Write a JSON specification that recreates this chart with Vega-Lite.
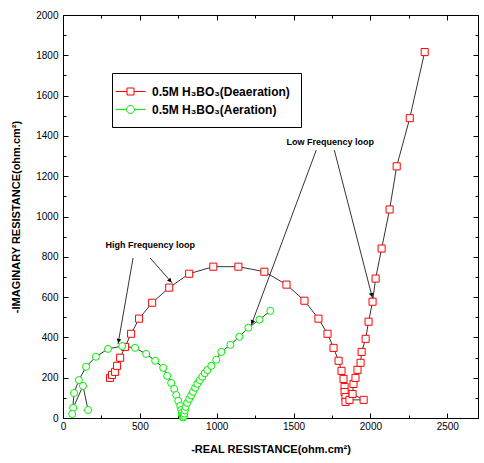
{
  "$schema": "https://vega.github.io/schema/vega-lite/v6.json",
  "width": 415,
  "height": 403,
  "autosize": {"type": "none"},
  "padding": {"left": 63, "top": 15, "right": 6, "bottom": 45},
  "background": "white",
  "config": {
    "view": {"stroke": "black", "strokeWidth": 1},
    "font": "Liberation Sans",
    "axis": {
      "grid": false,
      "domainColor": "black",
      "tickColor": "black",
      "labelColor": "black",
      "titleColor": "black",
      "labelFont": "Liberation Sans",
      "labelFontSize": 10,
      "titleFont": "Liberation Sans",
      "titleFontSize": 11,
      "titleFontWeight": "bold",
      "labelFlush": false,
      "labelOverlap": false,
      "format": "d"
    }
  },
  "datasets": {
    "eis": [
      {"series": "0.5M H₃BO₃(Deaeration)", "i": 1, "x": 306, "y": 199},
      {"series": "0.5M H₃BO₃(Deaeration)", "i": 2, "x": 319, "y": 214},
      {"series": "0.5M H₃BO₃(Deaeration)", "i": 3, "x": 339, "y": 229},
      {"series": "0.5M H₃BO₃(Deaeration)", "i": 4, "x": 352, "y": 259},
      {"series": "0.5M H₃BO₃(Deaeration)", "i": 5, "x": 372, "y": 299},
      {"series": "0.5M H₃BO₃(Deaeration)", "i": 6, "x": 404, "y": 353},
      {"series": "0.5M H₃BO₃(Deaeration)", "i": 7, "x": 443, "y": 418},
      {"series": "0.5M H₃BO₃(Deaeration)", "i": 8, "x": 495, "y": 493},
      {"series": "0.5M H₃BO₃(Deaeration)", "i": 9, "x": 580, "y": 572},
      {"series": "0.5M H₃BO₃(Deaeration)", "i": 10, "x": 691, "y": 647},
      {"series": "0.5M H₃BO₃(Deaeration)", "i": 11, "x": 821, "y": 716},
      {"series": "0.5M H₃BO₃(Deaeration)", "i": 12, "x": 978, "y": 751},
      {"series": "0.5M H₃BO₃(Deaeration)", "i": 13, "x": 1141, "y": 751},
      {"series": "0.5M H₃BO₃(Deaeration)", "i": 14, "x": 1310, "y": 726},
      {"series": "0.5M H₃BO₃(Deaeration)", "i": 15, "x": 1454, "y": 662},
      {"series": "0.5M H₃BO₃(Deaeration)", "i": 16, "x": 1571, "y": 582},
      {"series": "0.5M H₃BO₃(Deaeration)", "i": 17, "x": 1662, "y": 493},
      {"series": "0.5M H₃BO₃(Deaeration)", "i": 18, "x": 1721, "y": 418},
      {"series": "0.5M H₃BO₃(Deaeration)", "i": 19, "x": 1760, "y": 348},
      {"series": "0.5M H₃BO₃(Deaeration)", "i": 20, "x": 1793, "y": 284},
      {"series": "0.5M H₃BO₃(Deaeration)", "i": 21, "x": 1812, "y": 234},
      {"series": "0.5M H₃BO₃(Deaeration)", "i": 22, "x": 1825, "y": 194},
      {"series": "0.5M H₃BO₃(Deaeration)", "i": 23, "x": 1832, "y": 154},
      {"series": "0.5M H₃BO₃(Deaeration)", "i": 24, "x": 1832, "y": 129},
      {"series": "0.5M H₃BO₃(Deaeration)", "i": 25, "x": 1838, "y": 104},
      {"series": "0.5M H₃BO₃(Deaeration)", "i": 26, "x": 1838, "y": 80},
      {"series": "0.5M H₃BO₃(Deaeration)", "i": 27, "x": 1864, "y": 90},
      {"series": "0.5M H₃BO₃(Deaeration)", "i": 28, "x": 1956, "y": 90},
      {"series": "0.5M H₃BO₃(Deaeration)", "i": 29, "x": 1884, "y": 119},
      {"series": "0.5M H₃BO₃(Deaeration)", "i": 30, "x": 1890, "y": 169},
      {"series": "0.5M H₃BO₃(Deaeration)", "i": 31, "x": 1903, "y": 199},
      {"series": "0.5M H₃BO₃(Deaeration)", "i": 32, "x": 1916, "y": 239},
      {"series": "0.5M H₃BO₃(Deaeration)", "i": 33, "x": 1936, "y": 274},
      {"series": "0.5M H₃BO₃(Deaeration)", "i": 34, "x": 1943, "y": 328},
      {"series": "0.5M H₃BO₃(Deaeration)", "i": 35, "x": 1969, "y": 393},
      {"series": "0.5M H₃BO₃(Deaeration)", "i": 36, "x": 1988, "y": 478},
      {"series": "0.5M H₃BO₃(Deaeration)", "i": 37, "x": 2014, "y": 577},
      {"series": "0.5M H₃BO₃(Deaeration)", "i": 38, "x": 2034, "y": 692},
      {"series": "0.5M H₃BO₃(Deaeration)", "i": 39, "x": 2073, "y": 841},
      {"series": "0.5M H₃BO₃(Deaeration)", "i": 40, "x": 2125, "y": 1035},
      {"series": "0.5M H₃BO₃(Deaeration)", "i": 41, "x": 2171, "y": 1249},
      {"series": "0.5M H₃BO₃(Deaeration)", "i": 42, "x": 2256, "y": 1488},
      {"series": "0.5M H₃BO₃(Deaeration)", "i": 43, "x": 2353, "y": 1816},
      {"series": "0.5M H₃BO₃(Aeration)", "i": 1, "x": 163, "y": 40},
      {"series": "0.5M H₃BO₃(Aeration)", "i": 2, "x": 130, "y": 159},
      {"series": "0.5M H₃BO₃(Aeration)", "i": 3, "x": 66, "y": 50},
      {"series": "0.5M H₃BO₃(Aeration)", "i": 4, "x": 60, "y": 20},
      {"series": "0.5M H₃BO₃(Aeration)", "i": 5, "x": 72, "y": 124},
      {"series": "0.5M H₃BO₃(Aeration)", "i": 6, "x": 103, "y": 188},
      {"series": "0.5M H₃BO₃(Aeration)", "i": 7, "x": 150, "y": 254},
      {"series": "0.5M H₃BO₃(Aeration)", "i": 8, "x": 214, "y": 304},
      {"series": "0.5M H₃BO₃(Aeration)", "i": 9, "x": 293, "y": 343},
      {"series": "0.5M H₃BO₃(Aeration)", "i": 10, "x": 385, "y": 357},
      {"series": "0.5M H₃BO₃(Aeration)", "i": 11, "x": 469, "y": 348},
      {"series": "0.5M H₃BO₃(Aeration)", "i": 12, "x": 541, "y": 318},
      {"series": "0.5M H₃BO₃(Aeration)", "i": 13, "x": 600, "y": 284},
      {"series": "0.5M H₃BO₃(Aeration)", "i": 14, "x": 652, "y": 249},
      {"series": "0.5M H₃BO₃(Aeration)", "i": 15, "x": 678, "y": 209},
      {"series": "0.5M H₃BO₃(Aeration)", "i": 16, "x": 704, "y": 174},
      {"series": "0.5M H₃BO₃(Aeration)", "i": 17, "x": 724, "y": 144},
      {"series": "0.5M H₃BO₃(Aeration)", "i": 18, "x": 737, "y": 114},
      {"series": "0.5M H₃BO₃(Aeration)", "i": 19, "x": 750, "y": 85},
      {"series": "0.5M H₃BO₃(Aeration)", "i": 20, "x": 763, "y": 60},
      {"series": "0.5M H₃BO₃(Aeration)", "i": 21, "x": 769, "y": 40},
      {"series": "0.5M H₃BO₃(Aeration)", "i": 22, "x": 773, "y": 25},
      {"series": "0.5M H₃BO₃(Aeration)", "i": 23, "x": 776, "y": 12},
      {"series": "0.5M H₃BO₃(Aeration)", "i": 24, "x": 779, "y": 5},
      {"series": "0.5M H₃BO₃(Aeration)", "i": 25, "x": 782, "y": 3},
      {"series": "0.5M H₃BO₃(Aeration)", "i": 26, "x": 786, "y": 10},
      {"series": "0.5M H₃BO₃(Aeration)", "i": 27, "x": 789, "y": 22},
      {"series": "0.5M H₃BO₃(Aeration)", "i": 28, "x": 793, "y": 38},
      {"series": "0.5M H₃BO₃(Aeration)", "i": 29, "x": 798, "y": 55},
      {"series": "0.5M H₃BO₃(Aeration)", "i": 30, "x": 808, "y": 75},
      {"series": "0.5M H₃BO₃(Aeration)", "i": 31, "x": 821, "y": 95},
      {"series": "0.5M H₃BO₃(Aeration)", "i": 32, "x": 834, "y": 112},
      {"series": "0.5M H₃BO₃(Aeration)", "i": 33, "x": 846, "y": 130},
      {"series": "0.5M H₃BO₃(Aeration)", "i": 34, "x": 860, "y": 150},
      {"series": "0.5M H₃BO₃(Aeration)", "i": 35, "x": 874, "y": 170},
      {"series": "0.5M H₃BO₃(Aeration)", "i": 36, "x": 890, "y": 188},
      {"series": "0.5M H₃BO₃(Aeration)", "i": 37, "x": 906, "y": 205},
      {"series": "0.5M H₃BO₃(Aeration)", "i": 38, "x": 922, "y": 222},
      {"series": "0.5M H₃BO₃(Aeration)", "i": 39, "x": 939, "y": 238},
      {"series": "0.5M H₃BO₃(Aeration)", "i": 40, "x": 965, "y": 259},
      {"series": "0.5M H₃BO₃(Aeration)", "i": 41, "x": 997, "y": 289},
      {"series": "0.5M H₃BO₃(Aeration)", "i": 42, "x": 1030, "y": 328},
      {"series": "0.5M H₃BO₃(Aeration)", "i": 43, "x": 1089, "y": 363},
      {"series": "0.5M H₃BO₃(Aeration)", "i": 44, "x": 1147, "y": 403},
      {"series": "0.5M H₃BO₃(Aeration)", "i": 45, "x": 1206, "y": 448},
      {"series": "0.5M H₃BO₃(Aeration)", "i": 46, "x": 1278, "y": 488},
      {"series": "0.5M H₃BO₃(Aeration)", "i": 47, "x": 1349, "y": 532}
    ],
    "arrows": [
      {"x": 456, "y": 794, "x2": 358, "y2": 367, "hx": 362, "hy": 382, "angle": 190},
      {"x": 567, "y": 794, "x2": 710, "y2": 670, "hx": 697, "hy": 681, "angle": 139},
      {"x": 1648, "y": 1330, "x2": 1225, "y2": 462, "hx": 1231, "hy": 475, "angle": 200},
      {"x": 1765, "y": 1330, "x2": 2013, "y2": 596, "hx": 2008, "hy": 610, "angle": 166}
    ],
    "labels": [
      {"x": 567, "y": 859, "text": "High Frequency loop"},
      {"x": 1739, "y": 1370, "text": "Low Frequency loop"}
    ]
  },
  "layer": [
    {
      "data": {"name": "eis"},
      "mark": {"type": "line", "color": "black", "strokeWidth": 0.8},
      "encoding": {
        "x": {
          "field": "x", "type": "quantitative",
          "scale": {"domain": [0, 2700], "nice": false, "zero": false},
          "axis": {
            "orient": "bottom",
            "title": "-REAL RESISTANCE(ohm.cm²)",
            "values": [0, 250, 500, 750, 1000, 1250, 1500, 1750, 2000, 2250, 2500],
            "labelExpr": "datum.value % 500 === 0 ? datum.label : ''",
            "tickSize": {"condition": {"test": "datum.value % 500 === 0", "value": -5}, "value": -3},
            "labelPadding": 8,
            "titlePadding": 10
          }
        },
        "y": {
          "field": "y", "type": "quantitative",
          "scale": {"domain": [0, 2000], "nice": false, "zero": false},
          "axis": {
            "orient": "left",
            "title": "-IMAGINARY RESISTANCE(ohm.cm²)",
            "values": [0, 100, 200, 300, 400, 500, 600, 700, 800, 900, 1000, 1100, 1200, 1300, 1400, 1500, 1600, 1700, 1800, 1900, 2000],
            "labelExpr": "datum.value % 200 === 0 ? datum.label : ''",
            "tickSize": {"condition": {"test": "datum.value % 200 === 0", "value": -5}, "value": -3},
            "labelPadding": 10,
            "titlePadding": 14
          }
        },
        "detail": {"field": "series"},
        "order": {"field": "i", "type": "quantitative"}
      }
    },
    {
      "data": {"name": "eis"},
      "mark": {"type": "point", "filled": false, "fill": "white", "fillOpacity": 1, "strokeWidth": 1, "size": 50, "opacity": 1},
      "encoding": {
        "x": {
          "field": "x", "type": "quantitative",
          "axis": {
            "orient": "top", "title": null, "labels": false,
            "values": [0, 250, 500, 750, 1000, 1250, 1500, 1750, 2000, 2250, 2500],
            "tickSize": {"condition": {"test": "datum.value % 500 === 0", "value": -5}, "value": -3}
          }
        },
        "y": {
          "field": "y", "type": "quantitative",
          "axis": {
            "orient": "right", "title": null, "labels": false,
            "values": [0, 100, 200, 300, 400, 500, 600, 700, 800, 900, 1000, 1100, 1200, 1300, 1400, 1500, 1600, 1700, 1800, 1900, 2000],
            "tickSize": {"condition": {"test": "datum.value % 200 === 0", "value": -5}, "value": -3}
          }
        },
        "stroke": {
          "field": "series", "type": "nominal",
          "scale": {"domain": ["0.5M H₃BO₃(Deaeration)", "0.5M H₃BO₃(Aeration)"], "range": ["#ff0000", "#00ee00"]},
          "legend": {
            "orient": "none", "legendX": 49, "legendY": 58, "title": null,
            "strokeColor": "black", "fillColor": "white", "padding": 11,
            "labelFont": "Liberation Sans", "labelFontWeight": "bold", "labelFontSize": 12, "labelColor": "black",
            "symbolSize": 196, "labelOffset": 14, "rowPadding": 4, "symbolStrokeWidth": 1, "symbolFillColor": "white",
            "symbolType": {"signal": "indexof(datum.value, 'Deaeration') >= 0 ? 'M-2.14,0H-0.5M0.5,0H2.14M-0.5,-0.5H0.5V0.5H-0.5Z' : 'M-2.14,0H-0.57M0.57,0H2.14M0.57,0A0.57,0.57,0,1,1,-0.57,0A0.57,0.57,0,1,1,0.57,0Z'"}
          }
        },
        "shape": {
          "condition": {"test": "indexof(datum.series, 'Deaeration') >= 0", "value": "square"},
          "value": "circle"
        }
      }
    },
    {
      "data": {"name": "arrows"},
      "mark": {"type": "rule", "color": "black", "strokeWidth": 0.8},
      "encoding": {
        "x": {"field": "x", "type": "quantitative", "axis": null},
        "y": {"field": "y", "type": "quantitative", "axis": null},
        "x2": {"field": "x2"},
        "y2": {"field": "y2"}
      }
    },
    {
      "data": {"name": "arrows"},
      "mark": {"type": "point", "shape": "triangle-up", "filled": true, "color": "black", "size": 22, "opacity": 1},
      "encoding": {
        "x": {"field": "hx", "type": "quantitative", "axis": null},
        "y": {"field": "hy", "type": "quantitative", "axis": null},
        "angle": {"field": "angle", "type": "quantitative", "scale": null}
      }
    },
    {
      "data": {"name": "labels"},
      "mark": {"type": "text", "font": "Liberation Sans", "fontWeight": "bold", "fontSize": 9, "color": "black", "align": "center", "baseline": "middle"},
      "encoding": {
        "x": {"field": "x", "type": "quantitative", "axis": null},
        "y": {"field": "y", "type": "quantitative", "axis": null},
        "text": {"field": "text"}
      }
    }
  ],
  "resolve": {"axis": {"x": "independent", "y": "independent"}}
}
